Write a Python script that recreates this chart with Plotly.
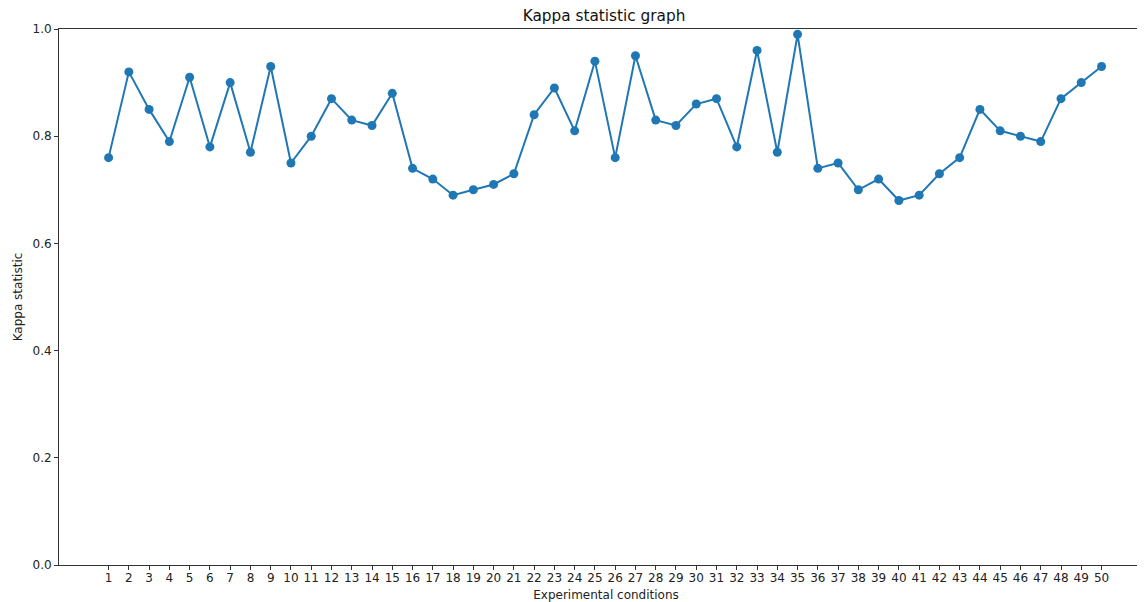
import plotly.graph_objects as go

conditions = list(range(1, 51))
kappa = [0.76, 0.92, 0.85, 0.79, 0.91, 0.78, 0.90, 0.77, 0.93, 0.75,
         0.80, 0.87, 0.83, 0.82, 0.88, 0.74, 0.72, 0.69, 0.70, 0.71,
         0.73, 0.84, 0.89, 0.81, 0.94, 0.76, 0.95, 0.83, 0.82, 0.86,
         0.87, 0.78, 0.96, 0.77, 0.99, 0.74, 0.75, 0.70, 0.72, 0.68,
         0.69, 0.73, 0.76, 0.85, 0.81, 0.80, 0.79, 0.87, 0.90, 0.93]
y_ticks = [0.0, 0.2, 0.4, 0.6, 0.8, 1.0]

fig = go.Figure()
fig.add_trace(go.Scatter(
    x=conditions, y=kappa, mode="lines+markers",
    line=dict(color="#1f77b4", width=2),
    marker=dict(color="#1f77b4", size=9),
    showlegend=False,
))

font = "DejaVu Sans"
fig.update_layout(
    width=1145, height=594,
    margin=dict(l=51, r=0, t=21, b=37),
    paper_bgcolor="white", plot_bgcolor="white",
    font=dict(family=font, size=12, color="#222"),
    title=dict(text="Kappa statistic graph", x=(604 - 8) / 1145, xanchor="center",
               y=(594 - 8) / 594, yanchor="middle", font=dict(size=15.3, family=font, color="#111")),
    xaxis=dict(
        range=[-1.447, 52.54], tickmode="array", tickvals=conditions,
        ticktext=[str(c) for c in conditions],
        showgrid=False, zeroline=False, showline=True, linecolor="#333", linewidth=1,
        mirror=True, ticks="outside", ticklen=4, tickcolor="#333", tickwidth=1,
        tickangle=0, ticklabelstandoff=-2,
        title=dict(text="Experimental conditions", standoff=8, font=dict(size=12)),
    ),
    yaxis=dict(
        range=[0, 1], tickmode="array", tickvals=y_ticks,
        ticktext=[f"{v:.1f}" for v in y_ticks],
        showgrid=False, zeroline=False, showline=True, linecolor="#333", linewidth=1,
        ticks="outside", ticklen=4, tickcolor="#333", tickwidth=1,
        title=dict(text="Kappa statistic", standoff=7, font=dict(size=12)),
    ),
)

fig.write_html("out.html")
